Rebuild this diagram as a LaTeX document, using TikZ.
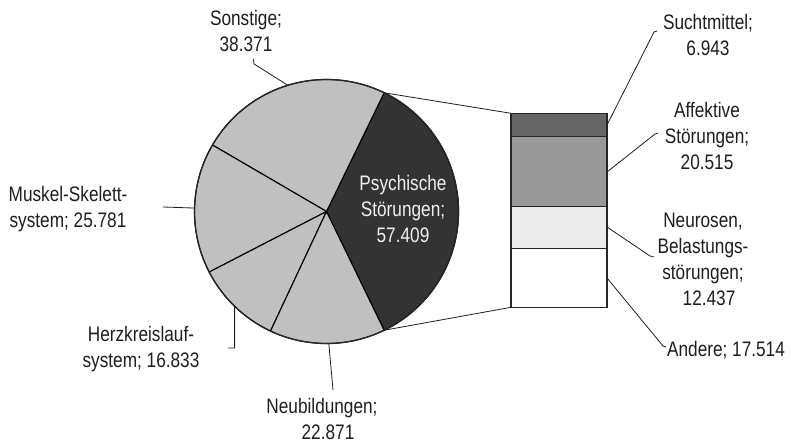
\documentclass[tikz,border=0pt]{standalone}
\usepackage{fontspec}
\setmainfont{Liberation Sans}[FakeStretch=0.82]
\usetikzlibrary{calc}

\definecolor{slicegray}{HTML}{C0C0C0}
\definecolor{psychgray}{HTML}{333333}
\definecolor{suchtgray}{HTML}{666666}
\definecolor{affgray}{HTML}{999999}
\definecolor{neurgray}{HTML}{EBEBEB}
\definecolor{inkgray}{HTML}{1E1E1E}

\tikzset{
  slice/.style={draw=black, line width=1.1pt, line join=round},
  pieedge/.style={draw=black!85, line width=1.3pt},
  barseg/.style={draw=black!85, line width=1.1pt},
  leader/.style={draw=inkgray, line width=0.8pt},
  lbl/.style={inner sep=0pt, align=center, text=inkgray,
              font=\fontsize{21}{26}\selectfont},
}

% one slice of the pie: fill colour, start and end angle
\newcommand{\pieslice}[3]{%
  \filldraw[slice, fill=#1] (c) -- ++(#2:132) arc[start angle=#2, end angle=#3, radius=132] -- cycle;}

\begin{document}
\begin{tikzpicture}[x=1pt, y=-1pt]
\useasboundingbox (0,0) rectangle (791,444);

% ---- pie (angles run clockwise on the page because y points down)
\coordinate (c) at (326.5,211.5);
\pieslice{psychgray}{64.1}{-64.1}
\pieslice{slicegray}{-64.1}{-149.75}
\pieslice{slicegray}{-149.75}{-207.3}
\pieslice{slicegray}{-207.3}{-244.9}
\pieslice{slicegray}{-244.9}{-295.9}
\draw[pieedge] (c) circle[radius=132];

\node[lbl, text=white!94!black] (psy) at (403,209) {Psychische\\Störungen;\\57.409};

% ---- breakdown bar
\coordinate (barTL) at (511,113.3);
\coordinate (barBL) at (511,307.3);
\filldraw[barseg, fill=suchtgray] (511,113.3) rectangle (607,136.8);
\filldraw[barseg, fill=affgray]   (511,136.8) rectangle (607,206.1);
\filldraw[barseg, fill=neurgray]  (511,206.1) rectangle (607,248.1);
\filldraw[barseg, fill=white]     (511,248.1) rectangle (607,307.3);

% lines joining the slice to the bar
\coordinate (psyTop) at ($(c)+(-64.1:132)$);
\coordinate (psyBot) at ($(c)+(64.1:132)$);
\draw[leader] (psyTop) -- (barTL);
\draw[leader] (psyBot) -- (barBL);

% ---- labels of the pie
\node[lbl] (son) at (246,31) {Sonstige;\\38.371};
\coordinate (sonE) at ($(c)+(-107:132)$);
\coordinate (sonK) at (254,64);
\coordinate (sonT) at (253.5,59);
\draw[leader] (sonE) -- (sonK) -- (sonT);

\node[lbl] (mus) at (68,209) {Muskel-Skelett-\\system; 25.781};
\coordinate (musE) at ($(c)+(-178.5:132)$);
\coordinate (musT) at (163,207);
\draw[leader] (musE) -- (musT);

\node[lbl] (herz) at (141,349) {Herzkreislauf-\\system; 16.833};
\coordinate (herzE) at ($(c)+(-225.9:132)$);
\coordinate (herzK) at (234.6,348);
\coordinate (herzT) at (228,348);
\draw[leader] (herzE) -- (herzK) -- (herzT);

\node[lbl] (neub) at (322,419) {Neubildungen;\\\hspace*{12pt}22.871};
\coordinate (neubE) at ($(c)+(-271:132)$);
\coordinate (neubT) at (333,390);
\draw[leader] (neubE) -- (neubT);

% ---- labels of the bar
\node[lbl] (sucht) at (708,35) {Suchtmittel;\\6.943};
\coordinate (suchtE) at (607,125);
\coordinate (suchtK) at (654,32);
\coordinate (suchtT) at (657,31);
\draw[leader] (suchtE) -- (suchtK) -- (suchtT);

\node[lbl] (aff) at (707,136) {Affektive\\Störungen;\\20.515};
\coordinate (affE) at (607,172);
\coordinate (affK) at (655,134);
\coordinate (affT) at (658,133);
\draw[leader] (affE) -- (affK) -- (affT);

\node[lbl] (neur) at (703,259) {Neurosen,\\Belastungs-\\störungen;\\\hspace*{12pt}12.437};
\coordinate (neurE) at (607,227);
\coordinate (neurK) at (650,256);
\coordinate (neurT) at (654,257);
\draw[leader] (neurE) -- (neurK) -- (neurT);

\node[lbl] (and) at (726,350) {Andere; 17.514};
\coordinate (andE) at (607,278);
\coordinate (andK) at (663,346);
\coordinate (andT) at (666,347);
\draw[leader] (andE) -- (andK) -- (andT);

\end{tikzpicture}
\end{document}
